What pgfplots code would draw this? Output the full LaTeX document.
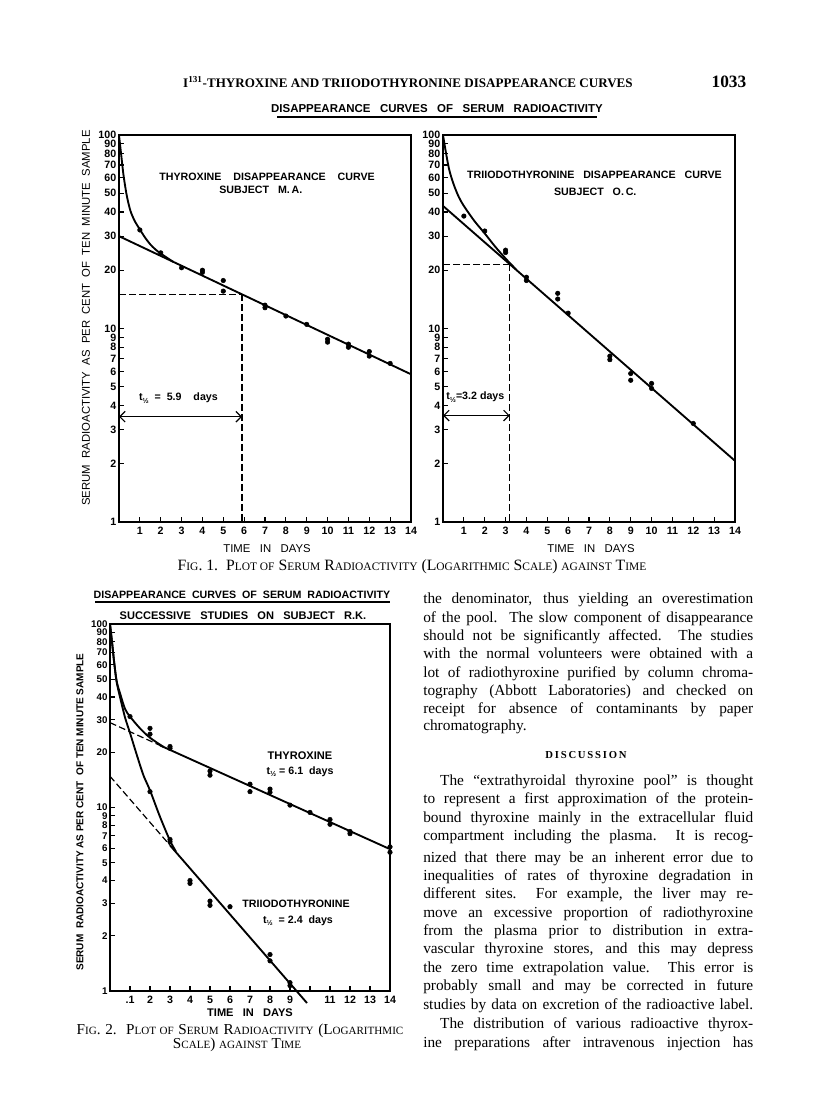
\documentclass[border=0pt]{standalone}
\usepackage{pgfplots}
\pgfplotsset{compat=1.18}
\usepackage{fontspec}
\setmainfont{Liberation Serif}
\newfontfamily\cf{Liberation Sans}
\usetikzlibrary{arrows.meta}

\newcommand\sans[1]{\cf\fontsize{#1}{#1}\selectfont}
\newcommand\sm[1]{{\fontsize{8.6}{9}\selectfont #1}}
\newcommand\smb[1]{{\fontsize{8.3}{9}\selectfont #1}}
\newcommand\half{t\raisebox{-0.5ex}{\fontsize{5.5}{5.5}\selectfont ½}}
% one justified line of the body text, #1 = pixel row of its baseline
\newcommand\bl[2]{\node[anchor=base west,inner sep=0pt] at (423,{1109-#1}) {\makebox[247.5pt][s]{#2}};}
\newcommand\bll[2]{\node[anchor=base west,inner sep=0pt] at (423,{1109-#1}) {\makebox[247.5pt][l]{#2}};}

\pgfplotsset{
  every axis/.append style={
    scale only axis, xmin=0, xmax=14, ymin=1, ymax=100,
    axis line style={line width=1.3pt},
    tick align=inside, xtick pos=bottom, ytick pos=left,
    major tick length=3.5pt, tick style={line width=0.8pt,black},
    xtick={1,2,...,14},
    xticklabels={1,2,3,4,5,6,7,8,9,10,11,12,13,14},
    ytick={1,2,3,4,5,6,7,8,9,10,20,30,40,50,60,70,80,90,100},
    yticklabels={1,2,3,4,5,6,7,8,9,10,20,30,40,50,60,70,80,90,100},
    tick label style={font=\sans{8}\bfseries},
    yticklabel style={inner sep=0.4pt, xshift=-1.5pt},
    clip=false,
  },
  pdots/.style={only marks, mark=*, mark size=1.7pt, black},
  pfit/.style={no marks, black, line width=1.4pt},
  pcurve/.style={no marks, black, line width=1.4pt, smooth, tension=0.5},
  pguide/.style={no marks, black, line width=0.9pt, dash pattern=on 5pt off 2.5pt},
}

\begin{document}
\begin{tikzpicture}
\begin{scope}[x=0.75pt,y=0.75pt]
\path[use as bounding box, fill=white] (0,0) rectangle (816,1109);

% running head
\node[font=\bfseries\fontsize{9.8}{10}\selectfont] at (408,1027) {I\textsuperscript{131}-THYROXINE AND TRIIODOTHYRONINE DISAPPEARANCE CURVES};
\node[anchor=east,font=\bfseries\fontsize{13}{13}\selectfont] at (751,1027) {1033};

% Fig. 1 texts
\node[font=\sans{8.6}\bfseries] at (437,1000) {DISAPPEARANCE\ \ \ CURVES\ \ \ OF\ \ \ SERUM\ \ \ RADIOACTIVITY};
\draw[line width=0.9pt] (277,992) -- (597,992);
\node[rotate=90,font=\sans{8.5}] at (86,791) {SERUM\ \ RADIOACTIVITY\ \ AS\ \ PER\ \ CENT\ \ OF\ \ TEN\ \ MINUTE\ \ SAMPLE};
\node[font=\sans{8.5}] at (267,560) {TIME\ \ \ IN\ \ \ DAYS};
\node[font=\sans{8.5}] at (591,560) {TIME\ \ \ IN\ \ \ DAYS};
\node[font=\fontsize{11.8}{12}\selectfont] at (412,542) {F\sm{IG}. 1.\ \ P\sm{LOT OF} S\sm{ERUM} R\sm{ADIOACTIVITY} (L\sm{OGARITHMIC} S\sm{CALE}) \sm{AGAINST} T\sm{IME}};

% Fig. 2 texts
\node[font=\sans{8}\bfseries] at (242,514) {DISAPPEARANCE\ \ CURVES\ \ OF\ \ SERUM\ \ RADIOACTIVITY};
\draw[line width=0.9pt] (95,507) -- (390,507);
\node[font=\sans{8.3}\bfseries] at (243,493) {SUCCESSIVE\ \ \ STUDIES\ \ \ ON\ \ \ SUBJECT\ \ \ R.K.};
\node[rotate=90,font=\sans{7.5}\bfseries] at (80,297) {SERUM\ \ RADIOACTIVITY\ AS\ PER\ CENT\ \ OF\ TEN\ MINUTE\ SAMPLE};
\node[font=\sans{8.3}\bfseries] at (250,96) {TIME\ \ \ IN\ \ \ DAYS};
\node[font=\fontsize{11.4}{12}\selectfont] at (240,78) {\makebox[245pt][s]{F\smb{IG}. 2.\ \ P\smb{LOT OF} S\smb{ERUM} R\smb{ADIOACTIVITY} (L\smb{OGARITHMIC}}};
\node[font=\fontsize{11.4}{12}\selectfont] at (237,64) {S\smb{CALE}) \smb{AGAINST} T\smb{IME}};

% body text
\begin{scope}[font=\fontsize{11.5}{13}\selectfont]
\bl{604}{the denominator, thus yielding an overestimation}
\bl{622.3}{of the pool.\ \ The slow component of disappearance}
\bl{640.7}{should not be significantly affected.\ \ The studies}
\bl{659}{with the normal volunteers were obtained with a}
\bl{677.3}{lot of radiothyroxine purified by column chroma-}
\bl{695.7}{tography (Abbott Laboratories) and checked on}
\bl{714}{receipt for absence of contaminants by paper}
\bll{731}{chromatography.}
\bl{785.7}{\hspace{1.1em}The “extrathyroidal thyroxine pool” is thought}
\bl{804}{to represent a first approximation of the protein-}
\bl{822.3}{bound thyroxine mainly in the extracellular fluid}
\bl{840.7}{compartment including the plasma.\ \ It is recog-}
\bl{862.3}{nized that there may be an inherent error due to}
\bl{880.7}{inequalities of rates of thyroxine degradation in}
\bl{899}{different sites.\ \ For example, the liver may re-}
\bl{917.3}{move an excessive proportion of radiothyroxine}
\bl{935.7}{from the plasma prior to distribution in extra-}
\bl{954}{vascular thyroxine stores, and this may depress}
\bl{972.3}{the zero time extrapolation value.\ \ This error is}
\bl{990.7}{probably small and may be corrected in future}
\bl{1009.7}{studies by data on excretion of the radioactive label.}
\bl{1028.3}{\hspace{1.1em}The distribution of various radioactive thyrox-}
\bl{1047.3}{ine preparations after intravenous injection has}
\end{scope}
\node[font=\bfseries\fontsize{8}{8}\selectfont] at (586,{1109-755}) {D\,I\,S\,C\,U\,S\,S\,I\,O\,N};
\end{scope}

% ---------------- Fig. 1, left ----------------
\begin{axis}[ymode=log, at={(89.25pt,440.25pt)}, anchor=south west, width=219pt, height=290.25pt]
\addplot[pcurve] coordinates {(0,100)(0.1,80)(0.2,64)(0.3,54)(0.4,47)(0.55,40.5)(0.75,36)(1,32.5)(1.25,29.5)(1.5,27.2)(1.75,25.6)(2,24.4)(2.6,22.1)};
\addplot[pfit] coordinates {(0,30)(14,5.8)};
\addplot[pdots] coordinates {(1,32.3)(2,24.6)(3,20.6)(4,20.0)(4,19.5)(5,17.7)(5,15.6)(7,13.2)(7,12.8)(8,11.6)(9,10.5)(10,8.8)(10,8.5)(11,8.3)(11,8.0)(12,7.6)(12,7.2)(13,6.6)};
\addplot[pguide] coordinates {(0,15)(5.9,15)};
\addplot[pguide] coordinates {(5.9,15)(5.9,1)};
\draw[{Straight Barb[length=4pt]}-{Straight Barb[length=4pt]}, line width=0.9pt] (axis cs:0,3.5) -- (axis cs:5.9,3.5);
\node[font=\sans{8}\bfseries] at (axis cs:7.1,60.8) {THYROXINE\ \ \ \ DISAPPEARANCE\ \ \ \ CURVE};
\node[font=\sans{8}\bfseries] at (axis cs:6.8,52) {SUBJECT\ \ \ M.\,A.};
\node[font=\sans{8}\bfseries] at (axis cs:2.85,4.35) {\half\ \ =\ \ 5.9\ \ \ \ days};
\end{axis}

% ---------------- Fig. 1, right ----------------
\begin{axis}[ymode=log, at={(332.25pt,440.25pt)}, anchor=south west, width=219pt, height=290.25pt]
\addplot[pcurve] coordinates {(0,100)(0.15,80)(0.3,66)(0.5,56)(0.75,48)(1,43)(1.5,36)(2,31)(2.5,26.5)(3,23)(3.5,20.2)};
\addplot[pfit] coordinates {(0,43)(14,2.07)};
\addplot[pdots] coordinates {(1,38.1)(2,31.9)(3,25.4)(3,24.7)(4,18.4)(4,17.7)(5.5,15.2)(5.5,14.2)(6,12.0)(8,7.2)(8,6.9)(9,5.85)(9,5.4)(10,5.2)(10,4.9)(12,3.23)};
\addplot[pguide] coordinates {(0,21.5)(3.2,21.5)};
\addplot[pguide] coordinates {(3.2,21.5)(3.2,1)};
\draw[{Straight Barb[length=4pt]}-{Straight Barb[length=4pt]}, line width=0.9pt] (axis cs:0,3.55) -- (axis cs:3.2,3.55);
\node[font=\sans{8}\bfseries] at (axis cs:7.26,62) {TRIIODOTHYRONINE\ \ \ DISAPPEARANCE\ \ \ CURVE};
\node[font=\sans{8}\bfseries] at (axis cs:7.3,51) {SUBJECT\ \ \ O.\,C.};
\node[font=\sans{8}\bfseries] at (axis cs:1.55,4.4) {\half=3.2 days};
\end{axis}

% ---------------- Fig. 2 ----------------
\begin{axis}[ymode=log, at={(82.5pt,88.5pt)}, anchor=south west, width=210pt, height=275.25pt,
  xticklabels={.1,2,3,4,5,6,7,8,9,{},11,12,13,14},
  yticklabel style={font=\sans{7.3}\bfseries, inner sep=0.2pt}]
% thyroxine
\addplot[pcurve] coordinates {(0,100)(0.1,80)(0.2,63)(0.33,49)(0.5,42)(0.75,34.5)(1,31.3)(1.5,27)(2,24)(2.7,21.3)};
\addplot[pguide] coordinates {(0,29)(2.5,21.8)};
\addplot[pfit] coordinates {(2.5,21.8)(14,5.93)};
\addplot[pdots] coordinates {(1,31.3)(2,27.0)(2,25.1)(3,21.5)(3,21.0)(5,15.8)(5,15.0)(7,13.4)(7,12.2)(8,12.6)(8,12.1)(9,10.3)(10,9.4)(11,8.6)(11,8.1)(12,7.4)(12,7.2)(14,6.1)(14,5.7)};
% triiodothyronine
\addplot[pcurve] coordinates {(0,100)(0.1,80)(0.2,63)(0.33,48.5)(0.5,40)(0.75,31)(1,25.5)(1.33,19.5)(1.67,15)(2,12.4)(2.5,8.9)(3,6.6)(3.3,5.75)};
\addplot[pguide] coordinates {(0,14.8)(3,6.22)};
\addplot[pfit] coordinates {(3,6.22)(9.85,0.86)};
\addplot[pdots] coordinates {(2,12.2)(3,6.7)(3,6.5)(4,4.0)(4,3.86)(5,3.09)(5,2.93)(6,2.88)(8,1.58)(8,1.46)(9,1.11)(9,1.07)};
\node[font=\sans{8.3}\bfseries] at (axis cs:9.5,19.1) {THYROXINE};
\node[font=\sans{8}\bfseries] at (axis cs:9.5,15.7) {\half\ = 6.1\ \ days};
\node[font=\sans{8}\bfseries] at (axis cs:9.3,2.98) {TRIIODOTHYRONINE};
\node[font=\sans{8}\bfseries] at (axis cs:9.4,2.42) {\half\ \ = 2.4\ \ days};
\end{axis}

\end{tikzpicture}
\end{document}
